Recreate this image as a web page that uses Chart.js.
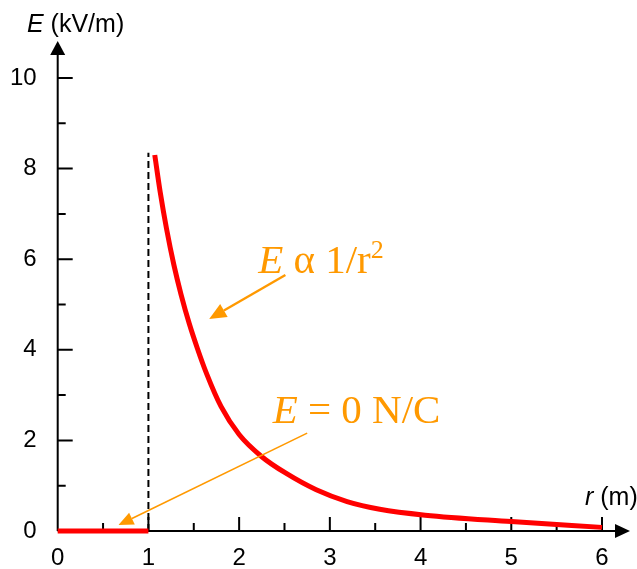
<!DOCTYPE html>
<html>
<head>
<meta charset="utf-8">
<script src="https://cdn.jsdelivr.net/npm/chart.js@4"></script>
<style>
  html, body { margin: 0; padding: 0; background: #fff; }
  #chart { display: block; }
</style>
</head>
<body>
<canvas id="chart" width="637" height="569"></canvas>
<script>
// E field of a charged shell: zero inside, falls off outside
const insideR = [0, 1];
const insideE = [0, 0];
const outsideR = [1.07, 1.13, 1.20, 1.28, 1.36, 1.45, 1.54, 1.64, 1.80, 2.00, 2.25, 2.52, 2.85, 3.19, 3.55, 4.05, 5.0, 6.0];
const outsideE = [8.30, 7.48, 6.67, 5.88, 5.22, 4.58, 4.03, 3.48, 2.75, 2.13, 1.64, 1.27, 0.91, 0.65, 0.48, 0.35, 0.21, 0.08];

const xTicks = [0, 1, 2, 3, 4, 5, 6];
const xMinor = [0.5, 1.5, 2.5, 3.5, 4.5, 5.5];
const yTicks = [0, 2, 4, 6, 8, 10];
const yMinor = [1, 3, 5, 7, 9];

const shellR = 1;
const shellTop = 8.35;

// annotation anchors, in data units
const noteCurve = { r: 2.21, E: 5.70, from: [2.51, 5.65], to: [1.67, 4.68] };
const noteInside = { r: 2.37, E: 2.38, from: [2.75, 2.16], to: [0.67, 0.13] };

const ORANGE = "#ff9900";
const SANS = "'Liberation Sans', Arial, sans-serif";
const SERIF = "'Liberation Serif', 'Times New Roman', serif";

const pts = (xs, ys) => xs.map((x, i) => ({ x, y: ys[i] }));

function arrow(ctx, x1, y1, x2, y2, headLen, headW, lw) {
  const ang = Math.atan2(y2 - y1, x2 - x1);
  const bx = x2 - headLen * Math.cos(ang);
  const by = y2 - headLen * Math.sin(ang);
  ctx.lineWidth = lw;
  ctx.beginPath();
  ctx.moveTo(x1, y1);
  ctx.lineTo(bx, by);
  ctx.stroke();
  ctx.beginPath();
  ctx.moveTo(x2, y2);
  ctx.lineTo(bx + headW / 2 * Math.sin(ang), by - headW / 2 * Math.cos(ang));
  ctx.lineTo(bx - headW / 2 * Math.sin(ang), by + headW / 2 * Math.cos(ang));
  ctx.closePath();
  ctx.fill();
}

const axesPlugin = {
  id: "axes",
  beforeDatasetsDraw(chart) {
    const { ctx, scales: { x, y } } = chart;
    const x0 = x.getPixelForValue(0);
    const y0 = y.getPixelForValue(0);
    const xEnd = x.getPixelForValue(6) + 28;
    const yEnd = y.getPixelForValue(10) - 37;
    ctx.save();
    ctx.strokeStyle = "#000";
    ctx.fillStyle = "#000";
    ctx.lineWidth = 2;

    // axis lines
    ctx.beginPath();
    ctx.moveTo(x0, y0);
    ctx.lineTo(xEnd - 12, y0);
    ctx.moveTo(x0, y0);
    ctx.lineTo(x0, yEnd + 12);
    ctx.stroke();

    // arrowheads
    ctx.beginPath();
    ctx.moveTo(xEnd, y0);
    ctx.lineTo(xEnd - 15, y0 - 7);
    ctx.lineTo(xEnd - 15, y0 + 7);
    ctx.closePath();
    ctx.fill();
    ctx.beginPath();
    ctx.moveTo(x0, yEnd);
    ctx.lineTo(x0 - 7.5, yEnd + 14);
    ctx.lineTo(x0 + 7.5, yEnd + 14);
    ctx.closePath();
    ctx.fill();

    // inward ticks
    ctx.beginPath();
    xTicks.forEach((v) => { const px = x.getPixelForValue(v); if (v) { ctx.moveTo(px, y0); ctx.lineTo(px, y0 - 14); } });
    xMinor.forEach((v) => { const px = x.getPixelForValue(v); ctx.moveTo(px, y0); ctx.lineTo(px, y0 - 8); });
    yTicks.forEach((v) => { const py = y.getPixelForValue(v); if (v) { ctx.moveTo(x0, py); ctx.lineTo(x0 + 15, py); } });
    yMinor.forEach((v) => { const py = y.getPixelForValue(v); ctx.moveTo(x0, py); ctx.lineTo(x0 + 8, py); });
    ctx.stroke();

    // shell radius marker
    ctx.setLineDash([7, 4]);
    ctx.lineWidth = 2;
    ctx.beginPath();
    ctx.moveTo(x.getPixelForValue(shellR), y0);
    ctx.lineTo(x.getPixelForValue(shellR), y.getPixelForValue(shellTop));
    ctx.stroke();
    ctx.setLineDash([]);

    // axis titles
    ctx.textBaseline = "alphabetic";
    ctx.textAlign = "left";
    ctx.font = `italic 25px ${SANS}`;
    ctx.fillText("E", 27, 32);
    let w = ctx.measureText("E ").width;
    ctx.font = `25px ${SANS}`;
    ctx.fillText("(kV/m)", 27 + w, 32);

    ctx.font = `italic 25px ${SANS}`;
    ctx.fillText("r", 585, 505);
    w = ctx.measureText("r ").width;
    ctx.font = `25px ${SANS}`;
    ctx.fillText("(m)", 585 + w, 505);
    ctx.restore();
  },
  afterDatasetsDraw(chart) {
    const { ctx, scales: { x, y } } = chart;
    ctx.save();
    ctx.strokeStyle = ORANGE;
    ctx.fillStyle = ORANGE;
    ctx.textBaseline = "alphabetic";

    // "E α 1/r²"
    let px = x.getPixelForValue(noteCurve.r);
    let py = y.getPixelForValue(noteCurve.E);
    ctx.font = `italic 41px ${SERIF}`;
    ctx.fillText("E", px, py);
    px += ctx.measureText("E ").width;
    ctx.font = `41px ${SERIF}`;
    ctx.fillText("\u03b1 1/r", px, py);
    px += ctx.measureText("\u03b1 1/r").width;
    ctx.font = `26px ${SERIF}`;
    ctx.fillText("2", px, py - 15);
    arrow(ctx, x.getPixelForValue(noteCurve.from[0]), y.getPixelForValue(noteCurve.from[1]),
      x.getPixelForValue(noteCurve.to[0]), y.getPixelForValue(noteCurve.to[1]), 17, 15, 2.4);

    // "E = 0 N/C"
    px = x.getPixelForValue(noteInside.r);
    py = y.getPixelForValue(noteInside.E);
    ctx.font = `italic 41px ${SERIF}`;
    ctx.fillText("E", px, py);
    px += ctx.measureText("E ").width;
    ctx.font = `41px ${SERIF}`;
    ctx.fillText("= 0 N/C", px, py);
    arrow(ctx, x.getPixelForValue(noteInside.from[0]), y.getPixelForValue(noteInside.from[1]),
      x.getPixelForValue(noteInside.to[0]), y.getPixelForValue(noteInside.to[1]), 15, 13, 1.6);
    ctx.restore();
  },
};

new Chart(document.getElementById("chart"), {
  type: "scatter",
  data: {
    datasets: [
      {
        data: pts(insideR, insideE),
        showLine: true,
        borderColor: "#ff0000",
        borderWidth: 5,
        pointRadius: 0,
        clip: false,
      },
      {
        data: pts(outsideR, outsideE),
        showLine: true,
        borderColor: "#ff0000",
        borderWidth: 5,
        pointRadius: 0,
        cubicInterpolationMode: "monotone",
        clip: false,
      },
    ],
  },
  options: {
    responsive: false,
    animation: false,
    devicePixelRatio: 1,
    layout: { padding: { top: 78, right: 35, left: 0, bottom: 0 } },
    plugins: { legend: { display: false }, tooltip: { enabled: false } },
    scales: {
      x: {
        type: "linear",
        min: 0,
        max: 6,
        grid: { display: false },
        border: { display: false },
        ticks: { stepSize: 1, color: "#000", padding: 5, font: { family: SANS, size: 24 } },
        afterFit: (s) => { s.height = 38; },
      },
      y: {
        type: "linear",
        min: 0,
        max: 10,
        grid: { display: false },
        border: { display: false },
        ticks: { stepSize: 2, color: "#000", padding: 13, font: { family: SANS, size: 24 } },
        afterFit: (s) => { s.width = 57.7; },
      },
    },
  },
  plugins: [axesPlugin],
});
</script>
</body>
</html>
